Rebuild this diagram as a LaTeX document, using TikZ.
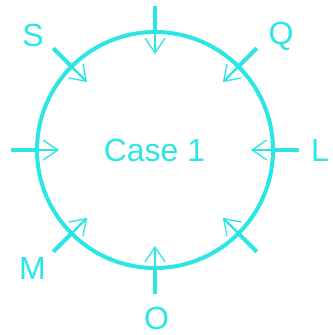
\documentclass[tikz,border=0pt]{standalone}
\usepackage{fontspec}
\setmainfont{Liberation Sans}
\usetikzlibrary{arrows.meta}
\definecolor{casecyan}{RGB}{44,230,230}
\begin{document}
\begin{tikzpicture}
  [x=0.75pt,y=-0.75pt,
   every node/.style={text=casecyan,font=\fontsize{24}{24}\selectfont,anchor=base,inner sep=0pt},
   rim/.style={draw=casecyan,line width=3pt},
   outer/.style={draw=casecyan,line width=3pt},
   inner/.style={draw=casecyan,line width=1.6pt,-{Straight Barb[length=11pt,width=15pt,line width=1pt]}}]
  \useasboundingbox (0,0) rectangle (332,335);
  \coordinate (c) at (155,150);
  \draw[rim] (c) circle[radius=118];
  \node (case) at (154.5,161) {Case 1};
  \node (s) at (33,47)    {S};
  \node (q) at (281,45)   {Q};
  \node (l) at (320,161)  {L};
  \node (m) at (32.5,279) {M};
  \node (o) at (156.5,329.5) {O};
  \foreach \ang in {-90,-45,0,45,90,135,180,225}{
    \coordinate (out\ang) at ([shift={(\ang:144)}]c);
    \coordinate (rim\ang) at ([shift={(\ang:118)}]c);
    \coordinate (tip\ang) at ([shift={(\ang:96)}]c);
    \draw[outer] (out\ang) -- (rim\ang);
    \draw[inner] (rim\ang) -- (tip\ang);
  }
\end{tikzpicture}
\end{document}
